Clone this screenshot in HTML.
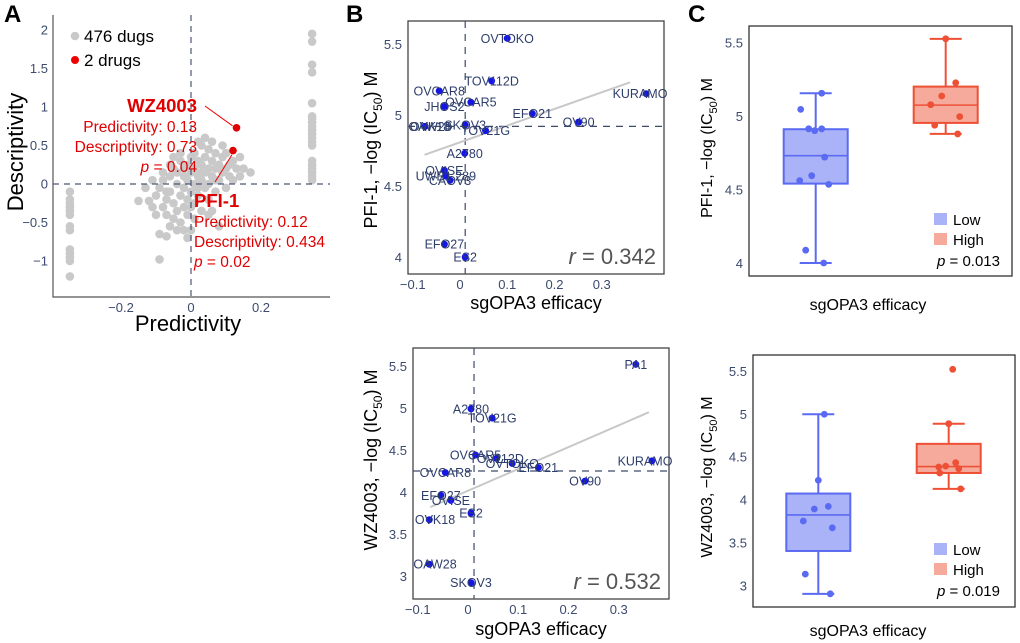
<!DOCTYPE html>
<html><head><meta charset="utf-8"><style>
html,body{margin:0;padding:0;background:#fff;}
svg{display:block;font-family:"Liberation Sans",sans-serif;}
.tk{fill:#3b4a6e;font-size:13px;}
.lbl{fill:#2e3e6b;font-size:12.5px;}
</style></head><body>
<svg id="fig" width="1020" height="643" viewBox="0 0 1020 643">
<g id="gA"></g>
<g id="gB1"></g>
<g id="gB2"></g>
<g id="gC1"></g>
<g id="gC2"></g>
</svg>
<script>
// ---------- Panel A data ----------
const clusterPts = [[-0.12,-0.22],[-0.1,-0.15],[-0.09,-0.05],[-0.08,-0.3],[-0.08,0.05],[-0.07,-0.2],[-0.07,-0.4],[-0.06,0.1],[-0.06,-0.1],[-0.05,0.2],[-0.05,-0.25],[-0.05,-0.45],[-0.04,0.0],[-0.04,0.15],[-0.04,-0.35],[-0.03,0.3],[-0.03,-0.15],[-0.03,-0.5],[-0.02,0.1],[-0.02,-0.05],[-0.02,-0.3],[-0.01,0.25],[-0.01,0.05],[-0.01,-0.2],[-0.01,-0.4],[0,0.35],[0,0.15],[0,-0.1],[0,-0.6],[0.01,0.4],[0.01,0.2],[0.01,0.0],[0.01,-0.25],[0.02,0.3],[0.02,0.1],[0.02,-0.15],[0.03,0.5],[0.03,0.25],[0.03,0.05],[0.03,-0.35],[0.04,0.35],[0.04,0.15],[0.04,-0.05],[0.05,0.45],[0.05,0.2],[0.05,0.0],[0.05,-0.2],[0.06,0.3],[0.06,0.1],[0.07,0.4],[0.07,0.2],[0.07,-0.1],[0.08,0.25],[0.08,0.05],[0.09,0.35],[0.09,0.15],[0.1,0.2],[0.1,0.4],[0.11,0.1],[0.12,0.3],[0.13,0.2],[0.14,0.1],[0.15,0.2],[0.17,0.15],[-0.15,-0.22],[-0.11,-0.3],[-0.09,-0.65],[-0.07,-0.68],[-0.09,-0.98],[-0.02,-0.6],[0.01,-0.45],[0.08,-0.55],[-0.13,-0.05],[-0.06,0.25],[0.02,0.55],[0.06,0.55],[0.09,0.5],[0.04,0.6],[-0.03,0.4],[-0.08,0.15],[0.12,0.05],[0.1,-0.05],[-0.04,-0.6],[0,-0.3],[0.02,-0.05],[-0.05,0.35],[0.06,-0.35],[-0.1,-0.4],[-0.06,-0.55],[0.03,0.15],[-0.02,0.2],[0.07,0.05],[0.11,0.25],[0.14,0.35],[-0.01,-0.7],[0.05,-0.4],[-0.11,0.05],[-0.07,-0.1]];
const rightColX = 0.346;
const rightColY = [1.95,1.85,1.55,1.45,1.05,0.88,0.85,0.8,0.75,0.7,0.65,0.6,0.55,0.5,0.3,0.25,0.2,0.15,0.1,0.05];
const leftColX = -0.346;
const leftColY = [-0.1,-0.2,-0.25,-0.3,-0.35,-0.4,-0.55,-0.6,-0.85,-0.9,-0.95,-1.0,-1.2];
const redPts = [[0.13,0.73],[0.12,0.434]];
const aXTicks = [-0.2,0,0.2];
const aXTickLabels = ["\u22120.2","0","0.2"];
const aYTicks = [-1,-0.5,0,0.5,1,1.5,2];
const aYTickLabels = ["\u22121","\u22120.5","0","0.5","1","1.5","2"];

// ---------- Panel B data ----------
const b1Names = ["OVTOKO","TOV112D","OVCAR8","OVCAR5","JHOS2","EFO21","OV90","KURAMO","SKOV3","OVK18","OAW28","TOV21G","A2780","OVISE","UWB1.289","CAOV3","EFO27","ES2"];
const b1X = [0.10,0.067,-0.044,0.023,-0.033,0.153,0.251,0.394,0.011,-0.074,-0.074,0.054,0.01,-0.033,-0.03,-0.021,-0.033,0.011];
const b1Y = [5.54,5.24,5.17,5.09,5.06,5.01,4.95,5.15,4.93,4.92,4.92,4.89,4.73,4.61,4.57,4.54,4.09,4.00];
const b1Fit = [[-0.075,4.72],[0.36,5.23]];
const b1RefX = 0.011, b1RefY = 4.92;
const b1R = "0.342";
const b2Names = ["PA1","A2780","TOV21G","OVCAR5","TOV112D","OVTOKO","EFO21","KURAMO","OVCAR8","OV90","EFO27","OVISE","ES2","OVK18","OAW28","SKOV3"];
const b2X = [0.334,0.006,0.048,0.015,0.057,0.088,0.14,0.366,-0.045,0.233,-0.054,-0.034,0.006,-0.077,-0.077,0.006];
const b2Y = [5.52,4.99,4.88,4.44,4.40,4.34,4.29,4.37,4.23,4.13,3.96,3.90,3.75,3.67,3.14,2.92];
const b2Fit = [[-0.075,3.82],[0.36,4.95]];
const b2RefX = 0.012, b2RefY = 4.25;
const b2R = "0.532";
const bXTicks = [-0.1,0,0.1,0.2,0.3];
const bXTickLabels = ["\u22120.1","0","0.1","0.2","0.3"];
const b1YTicks = [4,4.5,5,5.5];
const b1YTickLabels = ["4","4.5","5","5.5"];
const b2YTicks = [3,3.5,4,4.5,5,5.5];
const b2YTickLabels = ["3","3.5","4","4.5","5","5.5"];

// ---------- Panel C data ----------
const c1Low = [5.155,5.045,4.913,4.90,4.913,4.72,4.56,4.594,4.535,4.087,4.0];
const c1LowStats = [4.0,4.54,4.73,4.91,5.155];
const c1High = [5.525,5.226,5.136,5.077,4.996,4.937,4.878];
const c1HighStats = [4.878,4.953,5.074,5.20,5.525];
const c1P = "0.013";
const c2Low = [4.995,4.225,3.92,3.89,3.75,3.67,3.13,2.90];
const c2LowStats = [2.90,3.40,3.82,4.07,4.995];
const c2High = [5.52,4.885,4.43,4.39,4.38,4.36,4.31,4.125];
const c2HighStats = [4.125,4.31,4.385,4.65,4.885];
const c2P = "0.019";
const c1Jit = [6,-15,-7,-1,6,9,-16,-4,13,-10,8];
const c1HJit = [0,10,-4,-15,14,-11,12];
const c2Jit = [6,0,10,-4,-15,14,-13,12];
const c2HJit = [4,0,7,-3,-10,10,-9,12];

const NS = "http://www.w3.org/2000/svg";
function mk(parent, tag, attrs, text){
  const e = document.createElementNS(NS, tag);
  for (const k in attrs) e.setAttribute(k, attrs[k]);
  if (text !== undefined) e.textContent = text;
  parent.appendChild(e);
  return e;
}

// ================= Panel A =================
(function(){
  const g = document.getElementById('gA');
  const ax = x => 191 + 350*x, ay = y => 184 - 77*y;
  let t = mk(g,'text',{x:4,y:22,'font-size':24,'font-weight':'bold',fill:'#000'},'A');
   
  // grey points
  const all = clusterPts.concat(rightColY.map(v=>[rightColX,v])).concat(leftColY.map(v=>[leftColX,v]));
  all.forEach(p=>{
    const c = mk(g,'circle',{cx:ax(p[0]),cy:ay(p[1]),r:4.3,fill:'#c9c9c9'});
    
    
  });
  // dashed ref lines
  let l = mk(g,'line',{x1:ax(0),y1:15,x2:ax(0),y2:297,stroke:'#4a5775','stroke-width':1.2,'stroke-dasharray':'6,5'});
   
  l = mk(g,'line',{x1:53,y1:ay(0),x2:330,y2:ay(0),stroke:'#4a5775','stroke-width':1.2,'stroke-dasharray':'6,5'});
   
  // axes
  l = mk(g,'path',{d:'M53,15 V297 H330',fill:'none',stroke:'#555','stroke-width':1.2});
   
  aXTicks.forEach((v,i)=>{
    const e = mk(g,'text',{x:ax(v),y:312,'text-anchor':'middle',class:'tk'},aXTickLabels[i]);
     
  });
  aYTicks.forEach((v,i)=>{
    const e = mk(g,'text',{x:48,y:ay(v)+4.5,'text-anchor':'end',class:'tk'},aYTickLabels[i]);
     
  });
  t = mk(g,'text',{x:188,y:331,'text-anchor':'middle','font-size':22,fill:'#000'},'Predictivity');
   
  t = mk(g,'text',{x:0,y:0,'text-anchor':'middle','font-size':22,fill:'#000',transform:'translate(23,152) rotate(-90)'},'Descriptivity');
   
  // legend
  let c = mk(g,'circle',{cx:75,cy:36,r:4.3,fill:'#c9c9c9'});  
  t = mk(g,'text',{x:84,y:42,'font-size':17,fill:'#000'},'476 dugs');  
  c = mk(g,'circle',{cx:75,cy:60,r:4,fill:'#e00'});  
  t = mk(g,'text',{x:84,y:66,'font-size':17,fill:'#000'},'2 drugs');  
  // red points
  redPts.forEach(p=>{
    const e = mk(g,'circle',{cx:ax(p[0]),cy:ay(p[1]),r:3.8,fill:'#e00000'});
     
  });
  l = mk(g,'line',{x1:205,y1:106,x2:ax(redPts[0][0])-4,y2:ay(redPts[0][1])-2,stroke:'#e00','stroke-width':1});
   
  l = mk(g,'line',{x1:215,y1:182,x2:ax(redPts[1][0])-1,y2:ay(redPts[1][1])+4,stroke:'#e00','stroke-width':1});
   
  const ann = (x,y,anchor,txt,name,bold,sz)=>{
    const e = mk(g,'text',{x:x,y:y,'text-anchor':anchor,'font-size':sz||15.5,fill:'#e00000','font-weight':bold?'bold':'normal'});
    e.innerHTML = txt;
     
  };
  ann(197,112,'end','WZ4003','wz4003-label',true,18.5);
  ann(197,132,'end','Predictivity: 0.13','wz4003-predictivity');
  ann(197,152,'end','Descriptivity: 0.73','wz4003-descriptivity');
  ann(197,172,'end','<tspan font-style="italic">p</tspan> = 0.04','wz4003-p');
  ann(194,207,'start','PFI-1','pfi1-label',true,18.5);
  ann(194,227,'start','Predictivity: 0.12','pfi1-predictivity');
  ann(194,247,'start','Descriptivity: 0.434','pfi1-descriptivity');
  ann(194,267,'start','<tspan font-style="italic">p</tspan> = 0.02','pfi1-p');
})();

// ================= Panel B =================
function drawB(g, o){
  const sx = x => o.x0 + o.kx*x, sy = y => o.y0 + (5.5-y)*o.ky;
  let e = mk(g,'rect',{x:o.L,y:o.T,width:o.R-o.L,height:o.B-o.T,fill:'none',stroke:'#444','stroke-width':1.3});
   
  e = mk(g,'line',{x1:sx(o.refX),y1:o.T,x2:sx(o.refX),y2:o.B,stroke:'#3d4a6b','stroke-width':1.2,'stroke-dasharray':'7,6'});
   
  e = mk(g,'line',{x1:o.L,y1:sy(o.refY),x2:o.R,y2:sy(o.refY),stroke:'#3d4a6b','stroke-width':1.2,'stroke-dasharray':'7,6'});
   
  e = mk(g,'line',{x1:sx(o.fit[0][0]),y1:sy(o.fit[0][1]),x2:sx(o.fit[1][0]),y2:sy(o.fit[1][1]),stroke:'#c8c8c8','stroke-width':2});
   
  o.xs.forEach((x,i)=>{
    const c = mk(g,'circle',{cx:sx(x),cy:sy(o.ys[i]),r:3.5,fill:'#1515e6'});
     
  });
  o.xs.forEach((x,i)=>{
    const tx = Math.min(Math.max(sx(x), o.L+22), o.R-24);
    const t = mk(g,'text',{x:tx,y:sy(o.ys[i])+4.5,'text-anchor':'middle',class:'lbl'},o.names[i]);
     
  });
  bXTicks.forEach((v,i)=>{
    const t = mk(g,'text',{x:sx(v),y:o.B+15,'text-anchor':'middle',class:'tk'},bXTickLabels[i]);
     
  });
  o.yt.forEach((v,i)=>{
    const t = mk(g,'text',{x:o.L-6,y:sy(v)+5,'text-anchor':'end',class:'tk'},o.ytl[i]);
     
  });
  let t = mk(g,'text',{x:o.R-8,y:o.B-10,'text-anchor':'end','font-size':22,fill:'#555'});
  t.innerHTML = '<tspan font-style="italic">r</tspan> = '+o.r;
   
  t = mk(g,'text',{x:(o.L+o.R)/2,y:o.xt,'text-anchor':'middle','font-size':18,fill:'#000'},'sgOPA3 efficacy');
   
  t = mk(g,'text',{x:0,y:0,'text-anchor':'middle','font-size':18,fill:'#000',transform:'translate('+o.ytx+','+o.yty+') rotate(-90)'});
  t.innerHTML = o.drug+', \u2212log (IC<tspan font-size="12" dy="5">50</tspan><tspan dy="-5">) M</tspan>';
   
}
(function(){
  const g1 = document.getElementById('gB1');
  let t = mk(g1,'text',{x:346,y:22,'font-size':24,'font-weight':'bold',fill:'#000'},'B');
   
  drawB(g1,{L:408,R:664,T:21,B:274,x0:460,kx:472.5,y0:44,ky:142,refX:b1RefX,refY:b1RefY,fit:b1Fit,xs:b1X,ys:b1Y,names:b1Names,yt:b1YTicks,ytl:b1YTickLabels,r:b1R,xt:309,ytx:377,yty:150,drug:'PFI-1'});
  const g2 = document.getElementById('gB2');
  drawB(g2,{L:413,R:669,T:348,B:599,x0:468,kx:502.5,y0:366,ky:84,refX:b2RefX,refY:b2RefY,fit:b2Fit,xs:b2X,ys:b2Y,names:b2Names,yt:b2YTicks,ytl:b2YTickLabels,r:b2R,xt:635,ytx:377,yty:460,drug:'WZ4003'});
})();

// ================= Panel C =================
function drawC(g, o){
  const sy = y => o.y0 + (5.5-y)*o.ky;
  let e = mk(g,'rect',{x:o.L,y:o.T,width:o.R-o.L,height:o.B-o.T,fill:'none',stroke:'#333','stroke-width':1.3});
   
  const box = (cx, st, fill, stroke, pts, jit, name)=>{
    const w = 32;
    let el = mk(g,'line',{x1:cx,y1:sy(st[0]),x2:cx,y2:sy(st[4]),stroke:stroke,'stroke-width':2});
     
    [st[0],st[4]].forEach(v=>{
      const c = mk(g,'line',{x1:cx-16,y1:sy(v),x2:cx+16,y2:sy(v),stroke:stroke,'stroke-width':2});
       
    });
    el = mk(g,'rect',{x:cx-w,y:sy(st[3]),width:2*w,height:sy(st[1])-sy(st[3]),fill:fill,stroke:stroke,'stroke-width':2});
     
    el = mk(g,'line',{x1:cx-w,y1:sy(st[2]),x2:cx+w,y2:sy(st[2]),stroke:stroke,'stroke-width':1.6});
     
    pts.forEach((v,i)=>{
      const c = mk(g,'circle',{cx:cx+jit[i],cy:sy(v),r:3.4,fill:stroke});
       
    });
  };
  box(o.lowX,o.lowStats,'#aab3f7','#5b6af2',o.low,o.lowJ,'low');
  box(o.highX,o.highStats,'#f6aa9c','#ee5036',o.high,o.highJ,'high');
  o.yt.forEach((v,i)=>{
    const t = mk(g,'text',{x:o.L-6,y:sy(v)+5,'text-anchor':'end',class:'tk','font-size':14},o.ytl[i]);
     
  });
  let r = mk(g,'rect',{x:934,y:o.lg-6,width:13,height:12,fill:'#aab3f7'});
   
  let t = mk(g,'text',{x:953,y:o.lg+6,'font-size':15,fill:'#000'},'Low');
   
  r = mk(g,'rect',{x:934,y:o.lg+14,width:13,height:12,fill:'#f6aa9c'});
   
  t = mk(g,'text',{x:953,y:o.lg+26,'font-size':15,fill:'#000'},'High');
   
  t = mk(g,'text',{x:1000,y:o.lg+47,'text-anchor':'end','font-size':15,fill:'#000'});
  t.innerHTML = '<tspan font-style="italic">p</tspan> = '+o.p;
   
  t = mk(g,'text',{x:868,y:o.xt,'text-anchor':'middle','font-size':16,fill:'#000'},'sgOPA3 efficacy');
   
  t = mk(g,'text',{x:0,y:0,'text-anchor':'middle','font-size':16,fill:'#000',transform:'translate(712,'+o.yty+') rotate(-90)'});
  t.innerHTML = o.drug+', \u2212log (IC<tspan font-size="11" dy="5">50</tspan><tspan dy="-5">) M</tspan>';
   
}
(function(){
  const g1 = document.getElementById('gC1');
  let t = mk(g1,'text',{x:688,y:22,'font-size':24,'font-weight':'bold',fill:'#000'},'C');
   
  drawC(g1,{L:749,R:1012,T:26,B:276,y0:42.5,ky:147,lowX:815.7,highX:945.7,low:c1Low,lowStats:c1LowStats,high:c1High,highStats:c1HighStats,lowJ:c1Jit,highJ:c1HJit,yt:b1YTicks,ytl:b1YTickLabels,lg:219,p:c1P,xt:310,yty:148,drug:'PFI-1'});
  const g2 = document.getElementById('gC2');
  drawC(g2,{L:753,R:1015,T:355,B:607,y0:371,ky:85.7,lowX:818.3,highX:948.7,low:c2Low,lowStats:c2LowStats,high:c2High,highStats:c2HighStats,lowJ:c2Jit,highJ:c2HJit,yt:b2YTicks,ytl:b2YTickLabels,lg:549,p:c2P,xt:636,yty:477,drug:'WZ4003'});
})();
</script>
</body></html>
